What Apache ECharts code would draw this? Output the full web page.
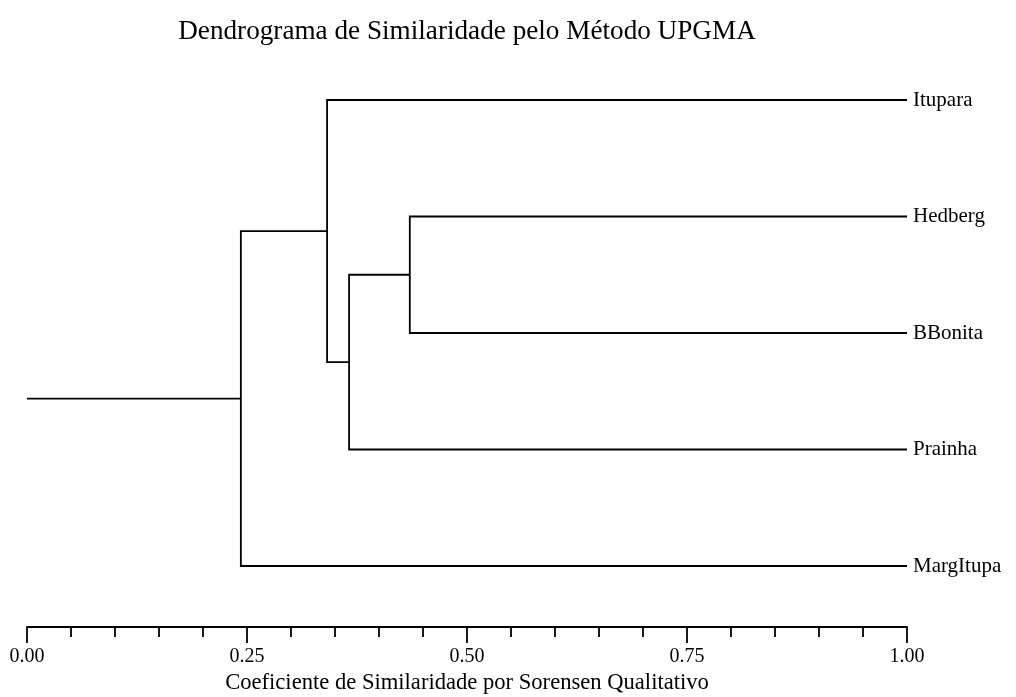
<!DOCTYPE html>
<html>
<head>
<meta charset="utf-8">
<script src="https://cdn.jsdelivr.net/npm/echarts@6/dist/echarts.min.js"></script>
<style>
  html, body { margin: 0; padding: 0; background: #fff; }
  #chart { width: 1016px; height: 697px; }
</style>
</head>
<body>
<div id="chart"></div>
<script>
// Leaf order from top to bottom
const leaves = ['Itupara', 'Hedberg', 'BBonita', 'Prainha', 'MargItupa'];

// UPGMA merges: node ids 0..4 are leaves, each merge creates node 5, 6, ...
const mergeA = [1, 5, 0, 7];
const mergeB = [2, 3, 6, 4];
const mergeSimilarity = [0.435, 0.366, 0.341, 0.243];

// Axis ticks
const tickValues = [0, 0.25, 0.5, 0.75, 1];

const FONT = "'Liberation Serif', 'Times New Roman', serif";
const LW = 1.8;

// Position of every node: x = similarity, y = leaf slot (clusters sit at the mean of their children)
const nodeX = leaves.map(() => 1);
const nodeY = leaves.map((_, i) => i);
const segments = [];
mergeA.forEach((a, k) => {
  const b = mergeB[k];
  const s = mergeSimilarity[k];
  segments.push({ coords: [[nodeX[a], nodeY[a]], [s, nodeY[a]], [s, nodeY[b]], [nodeX[b], nodeY[b]]] });
  nodeX.push(s);
  nodeY.push((nodeY[a] + nodeY[b]) / 2);
});
// stem of the root cluster back to zero similarity
const root = nodeX.length - 1;
segments.push({ coords: [[0, nodeY[root]], [nodeX[root], nodeY[root]]] });

const chart = echarts.init(document.getElementById('chart'));
chart.setOption({
  animation: false,
  backgroundColor: '#fff',
  title: {
    text: 'Dendrograma de Similaridade pelo Método UPGMA',
    left: 462,
    top: 13,
    textAlign: 'center',
    textStyle: { fontFamily: FONT, fontSize: 27.2, fontWeight: 'normal', color: '#000' }
  },
  grid: { left: 27, right: 109, top: 100, bottom: 131, outerBoundsMode: 'none', containLabel: false },
  xAxis: {
    type: 'value',
    min: 0,
    max: 1,
    interval: 0.25,
    position: 'bottom',
    offset: 61,
    name: 'Coeficiente de Similaridade por Sorensen Qualitativo',
    nameLocation: 'middle',
    nameGap: 42,
    nameTextStyle: { fontFamily: FONT, fontSize: 22.6, color: '#000' },
    axisLine: { show: true, onZero: false, lineStyle: { color: '#000', width: LW } },
    axisTick: { show: true, length: 16, lineStyle: { color: '#000', width: LW } },
    minorTick: { show: true, splitNumber: 5, length: 10, lineStyle: { color: '#000', width: LW } },
    splitLine: { show: false },
    axisLabel: {
      margin: 20,
      fontFamily: FONT,
      fontSize: 20,
      color: '#000',
      formatter: v => (tickValues.includes(v) ? v.toFixed(2) : '')
    }
  },
  yAxis: {
    type: 'value',
    min: 0,
    max: leaves.length - 1,
    interval: 1,
    inverse: true,
    position: 'right',
    axisLine: { show: false },
    axisTick: { show: false },
    splitLine: { show: false },
    axisLabel: {
      margin: 6,
      fontFamily: FONT,
      fontSize: 21,
      color: '#000',
      formatter: v => leaves[v] || ''
    }
  },
  series: [{
    type: 'lines',
    coordinateSystem: 'cartesian2d',
    polyline: true,
    silent: true,
    lineStyle: { color: '#000', width: LW, opacity: 1 },
    data: segments
  }]
});
</script>
</body>
</html>
